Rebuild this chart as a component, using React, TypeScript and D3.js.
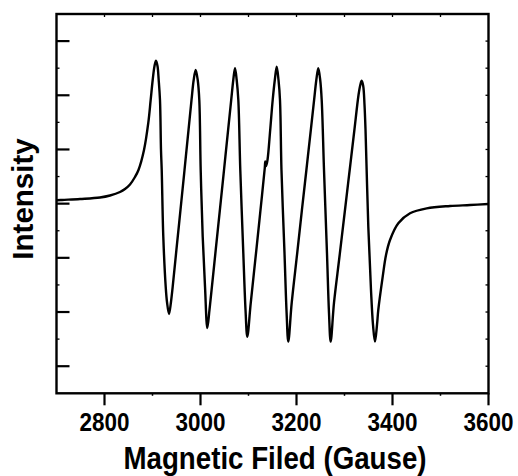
import React from "react";
import * as d3 from "d3";

// Magnetic field (Gauss) and intensity (a.u.)
const fieldG = [
  2701, 2711.5, 2749, 2790.6, 2811.5, 2832.3, 2842.7, 2853.1, 2863.5, 2870.8,
  2882.3, 2891.2, 2896.2, 2900.4, 2904.2, 2907.3, 2910.4, 2912.9, 2915.6, 2917.7,
  2919.2, 2922.5, 2927.5, 2930.2, 2934.4, 2938.5, 2942.1, 2949.8, 2958.3, 2966.7,
  2975, 2981.3, 2985.8, 2990, 2994.2, 2997.5, 3000.4, 3004.6, 3009.4, 3014.2,
  3018.7, 3023.1, 3031.7, 3040.4, 3049, 3057.5, 3064, 3068.3, 3071.9, 3075.4,
  3078.8, 3082.9, 3089.2, 3093.8, 3097.5, 3104.6, 3115.6, 3125, 3133.9, 3135,
  3136.9, 3139.6, 3145.2, 3150.4, 3154.8, 3158.8, 3162.5, 3165.6, 3168.7, 3175,
  3179.4, 3182.9, 3190, 3201.5, 3211.3, 3220.6, 3229.8, 3236.7, 3241.3, 3245.4,
  3249.4, 3252.5, 3257.3, 3263.5, 3267.7, 3271.2, 3278.1, 3289.2, 3301, 3310.8,
  3320.6, 3329.2, 3332.9, 3335.8, 3339, 3341.7, 3343.8, 3349.6, 3355.2, 3359.4,
  3363.5, 3367.7, 3370.4, 3379.6, 3386.5, 3394.8, 3412.1, 3436.5, 3471.3, 3519.8,
  3561.5, 3599.6,
];
const intensity = [
  3.062, 3.068, 3.086, 3.114, 3.151, 3.215, 3.271, 3.354, 3.492, 3.621,
  3.99, 4.489, 4.913, 5.282, 5.54, 5.638, 5.54, 5.282, 4.913, 3.99,
  3.621, 2.39, 1.468, 1.185, 0.964, 1.185, 1.468, 2.145, 2.883, 3.621,
  4.359, 4.913, 5.282, 5.467, 5.282, 4.913, 3.621, 2.39, 1.468, 0.705,
  1.038, 1.407, 2.145, 2.883, 3.621, 4.359, 4.913, 5.282, 5.498, 5.282,
  4.913, 3.621, 2.084, 1.038, 0.545, 1.161, 2.084, 2.883, 3.658, 3.778,
  3.695, 3.806, 4.359, 4.913, 5.282, 5.527, 5.282, 4.913, 3.621, 2.089,
  0.982, 0.453, 1.167, 2.089, 2.883, 3.621, 4.359, 4.913, 5.282, 5.498,
  5.282, 4.913, 3.621, 2.089, 0.982, 0.453, 1.167, 1.997, 2.883, 3.621,
  4.359, 5.005, 5.19, 5.269, 5.171, 4.821, 4.359, 2.575, 1.407, 0.761,
  0.453, 0.761, 1.038, 1.652, 2.053, 2.329, 2.638, 2.822, 2.914, 2.957,
  2.975, 2.994,
];

const xMajorTicks = [2800, 3000, 3200, 3400, 3600];
const xMinorTicks = [2900, 3100, 3300, 3500];
const xTopTicks = [2800, 2900, 3000, 3100, 3200, 3300, 3400, 3500];
const yMajorTicks = [0, 1, 2, 3, 4, 5, 6];
const yMinorTicks = [0.5, 1.5, 2.5, 3.5, 4.5, 5.5];
const yRightTicks = [0, 0.5, 1, 1.5, 2, 2.5, 3, 3.5, 4, 4.5, 5, 5.5, 6];

const xLabel = "Magnetic Filed (Gause)";
const yLabel = "Intensity";

const W = 518;
const H = 476;
const L = 56.5;
const R = 488.5;
const T = 14;
const B = 393.3;

export default function App() {
  const x = d3.scaleLinear().domain([2700, 3600]).range([L, R]);
  const y = d3.scaleLinear().domain([-0.5, 6.5]).range([B, T]);
  const pts = fieldG.map((g, i) => [g, intensity[i]] as [number, number]);
  const line = d3
    .line<[number, number]>()
    .x((d) => x(d[0]))
    .y((d) => y(d[1]))
    .curve(d3.curveCatmullRom.alpha(0.5));
  const font = "'Liberation Sans', Arial, sans-serif";

  return (
    <svg
      width={W}
      height={H}
      style={{ position: "absolute", left: 0, top: 0, background: "#fff" }}
    >
      <path d={line(pts) || ""} fill="none" stroke="#000" strokeWidth={2.4} strokeLinejoin="round" />
      {xMajorTicks.map((t) => (
        <line key={"xb" + t} x1={x(t)} x2={x(t)} y1={B} y2={B + 12} stroke="#000" strokeWidth={2.2} />
      ))}
      {xMinorTicks.map((t) => (
        <line key={"xm" + t} x1={x(t)} x2={x(t)} y1={B} y2={B + 2.5} stroke="#000" strokeWidth={1.5} />
      ))}
      {xTopTicks.map((t) => (
        <line key={"xt" + t} x1={x(t)} x2={x(t)} y1={T} y2={T + 3} stroke="#000" strokeWidth={1.3} />
      ))}
      {yMajorTicks.map((t) => (
        <line key={"yl" + t} x1={L} x2={L + 13} y1={y(t)} y2={y(t)} stroke="#000" strokeWidth={2.2} />
      ))}
      {yMinorTicks.map((t) => (
        <line key={"ym" + t} x1={L} x2={L + 3} y1={y(t)} y2={y(t)} stroke="#000" strokeWidth={1.3} />
      ))}
      {yRightTicks.map((t) => (
        <line key={"yr" + t} x1={R} x2={R - 3} y1={y(t)} y2={y(t)} stroke="#000" strokeWidth={1.3} />
      ))}
      <rect x={L} y={T} width={R - L} height={B - T} fill="none" stroke="#000" strokeWidth={2.4} />
      {xMajorTicks.map((t) => (
        <text
          key={"lbl" + t}
          x={x(t)}
          y={430.5}
          textAnchor="middle"
          fontFamily={font}
          fontWeight="bold"
          fontSize={25}
          textLength={50}
          lengthAdjust="spacingAndGlyphs"
        >
          {t}
        </text>
      ))}
      <text
        x={275}
        y={469.3}
        textAnchor="middle"
        fontFamily={font}
        fontWeight="bold"
        fontSize={32}
        textLength={303}
        lengthAdjust="spacingAndGlyphs"
      >
        {xLabel}
      </text>
      <text
        transform={`translate(33,199) rotate(-90)`}
        textAnchor="middle"
        fontFamily={font}
        fontWeight="bold"
        fontSize={29.5}
      >
        {yLabel}
      </text>
    </svg>
  );
}
